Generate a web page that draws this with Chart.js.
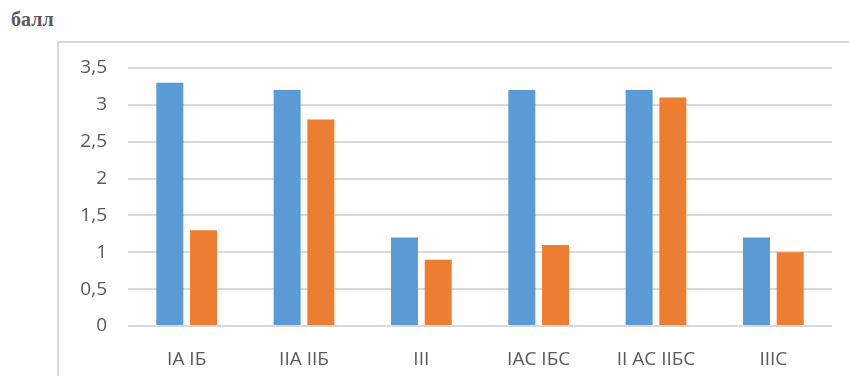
<!DOCTYPE html>
<html>
<head>
<meta charset="utf-8">
<script src="https://cdn.jsdelivr.net/npm/chart.js@4"></script>
<style>
  body { margin: 0; background: #fff; width: 849px; height: 376px; overflow: hidden; position: relative; }
  .unit { position: absolute; left: 11px; top: 8px; font: bold 20px "Liberation Serif", serif; color: #595959; }
  .frame { position: absolute; left: 57px; top: 41px; width: 900px; height: 400px; border: 2px solid #d9d9d9; box-sizing: border-box; }
  .wrap { position: absolute; left: 0; top: 0; width: 849px; height: 376px; }
</style>
</head>
<body>
<div class="unit">балл</div>
<div class="frame"></div>
<div class="wrap"><canvas id="myChart"></canvas></div>
<script>
const categories = ['IA IБ', 'IIA IIБ', 'III', 'IAC IБC', 'II AC IIБC', 'IIIC'];
const seriesA = [3.3, 3.2, 1.2, 3.2, 3.2, 1.2];
const seriesB = [1.3, 2.8, 0.9, 1.1, 3.1, 1.0];
const yTicks = [0, 0.5, 1, 1.5, 2, 2.5, 3, 3.5];

const ctx = document.getElementById('myChart');

new Chart(ctx, {
    type: 'bar',
    data: {
        labels: categories,
        datasets: [
            { data: seriesA, backgroundColor: '#5b9bd5' },
            { data: seriesB, backgroundColor: '#ed7d31' }
        ]
    },
    options: {
        responsive: true,
        maintainAspectRatio: false,
        animation: false,
        categoryPercentage: 0.575,
        barPercentage: 0.8,
        layout: { padding: { left: 61, right: 17, top: 68, bottom: 0 } },
        plugins: { legend: { display: false }, tooltip: { enabled: false } },
        scales: {
            x: {
                grid: { display: false },
                border: { display: false },
                ticks: { color: '#595959', font: { family: 'Open Sans', size: 19 }, padding: 14, maxRotation: 0 },
                afterFit: (s) => { s.height = 50; }
            },
            y: {
                min: 0,
                max: 3.5,
                afterBuildTicks: (s) => { s.ticks = yTicks.map(v => ({ value: v })); },
                grid: { color: '#d9d9d9', lineWidth: 2, drawTicks: false },
                border: { display: false },
                ticks: {
                    color: '#595959',
                    font: { family: 'Open Sans', size: 19 },
                    padding: 21,
                    callback: (v) => String(v).replace('.', ',')
                },
                afterFit: (s) => { s.width = 67; }
            }
        }
    }
});
</script>
</body>
</html>
